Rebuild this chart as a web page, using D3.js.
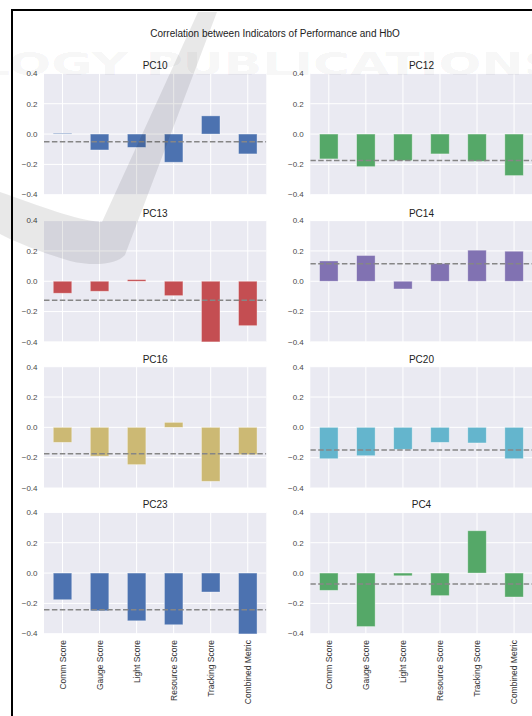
<!DOCTYPE html>
<html>
<head>
<meta charset="utf-8">
<script src="https://cdn.jsdelivr.net/npm/d3@7"></script>
<style>
  html, body { margin: 0; padding: 0; background: #ffffff; }
  svg { display: block; font-family: "Liberation Sans", Arial, sans-serif; }
</style>
</head>
<body>
<svg id="chart" width="532" height="716"></svg>
<script>
// Indicators shown on the x axis of every panel
const categories = ["Comm Score", "Gauge Score", "Light Score", "Resource Score", "Tracking Score", "Combined Metric"];

// Principal components, one panel each (row by row)
const panelNames = ["PC10", "PC12", "PC13", "PC14", "PC16", "PC20", "PC23", "PC4"];

// Correlation of each indicator with the component
const pc10 = [0.005, -0.105, -0.088, -0.186, 0.12, -0.131];
const pc12 = [-0.164, -0.215, -0.175, -0.131, -0.18, -0.274];
const pc13 = [-0.079, -0.066, 0.011, -0.095, -0.40, -0.293];
const pc14 = [0.134, 0.17, -0.051, 0.117, 0.205, 0.198];
const pc16 = [-0.099, -0.19, -0.246, 0.033, -0.356, -0.18];
const pc20 = [-0.207, -0.187, -0.145, -0.099, -0.103, -0.207];
const pc23 = [-0.176, -0.249, -0.315, -0.341, -0.125, -0.405];
const pc4  = [-0.114, -0.353, -0.018, -0.149, 0.279, -0.158];

// Dashed reference level drawn across each panel
const referenceLevels = [-0.05, -0.175, -0.125, 0.115, -0.174, -0.15, -0.242, -0.072];

// Bar colour per panel (seaborn "deep" palette)
const panelColors = ["#4C72B0", "#55A868", "#C44E52", "#8172B2", "#CCB974", "#64B5CD", "#4C72B0", "#55A868"];

// Y axis ticks
const yTicks = [-0.4, -0.2, 0.0, 0.2, 0.4];

const seriesValues = [pc10, pc12, pc13, pc14, pc16, pc20, pc23, pc4];

const svg = d3.select("#chart");

// Figure frame
svg.append("rect")
  .attr("x", 12).attr("y", 10)
  .attr("width", 540).attr("height", 720)
  .attr("fill", "#ffffff")
  .attr("stroke", "#000000")
  .attr("stroke-width", 2);

svg.append("text")
  .attr("x", 275).attr("y", 36.5)
  .attr("text-anchor", "middle")
  .attr("font-size", 10)
  .attr("fill", "#222")
  .text("Correlation between Indicators of Performance and HbO");

const colLeft = [44, 310.3];
const plotW = 222.3;
const rowTop = [73.4, 220.6, 366.7, 512.4];
const plotH = 121.3;

const y = d3.scaleLinear().domain([-0.4, 0.4]).range([plotH, 0]);
const x = d3.scaleBand().domain(categories).range([0, plotW]).padding(0);
const barW = x.bandwidth() * 0.5;
const fmt = d3.format(".1f");

const defs = svg.append("defs");

panelNames.forEach((name, i) => {
  const col = i % 2, row = Math.floor(i / 2);
  const g = svg.append("g")
    .attr("transform", `translate(${colLeft[col]},${rowTop[row]})`);

  const clipId = "clip" + i;
  defs.append("clipPath").attr("id", clipId)
    .append("rect").attr("width", plotW).attr("height", plotH);

  // Axes background
  g.append("rect")
    .attr("width", plotW).attr("height", plotH)
    .attr("fill", "#EAEAF2");

  // Grid lines
  g.selectAll(".hgrid").data(yTicks).enter().append("line")
    .attr("x1", 0).attr("x2", plotW)
    .attr("y1", d => y(d)).attr("y2", d => y(d))
    .attr("stroke", "#ffffff").attr("stroke-width", 1);
  g.selectAll(".vgrid").data(categories).enter().append("line")
    .attr("x1", d => x(d) + x.bandwidth() / 2)
    .attr("x2", d => x(d) + x.bandwidth() / 2)
    .attr("y1", 0).attr("y2", plotH)
    .attr("stroke", "#ffffff").attr("stroke-width", 1);

  // Bars
  const plot = g.append("g").attr("clip-path", `url(#${clipId})`);
  plot.selectAll(".bar").data(seriesValues[i]).enter().append("rect")
    .attr("x", (d, k) => x(categories[k]) + (x.bandwidth() - barW) / 2)
    .attr("y", d => y(Math.max(0, d)))
    .attr("width", barW)
    .attr("height", d => Math.abs(y(d) - y(0)))
    .attr("fill", panelColors[i])
    .attr("stroke", "#ffffff")
    .attr("stroke-opacity", 0.45)
    .attr("stroke-width", 0.8);

  // Reference level
  plot.append("line")
    .attr("x1", 0).attr("x2", plotW)
    .attr("y1", y(referenceLevels[i])).attr("y2", y(referenceLevels[i]))
    .attr("stroke", "#868686")
    .attr("stroke-width", 1.5)
    .attr("stroke-dasharray", "5.5,2.4");

  // Y tick labels
  g.selectAll(".ylab").data(yTicks).enter().append("text")
    .attr("x", -6.5).attr("y", d => y(d))
    .attr("dy", "0.35em")
    .attr("text-anchor", "end")
    .attr("font-size", 8)
    .attr("fill", "#4a4a4a")
    .text(d => fmt(d));

  // Panel title
  g.append("text")
    .attr("x", plotW / 2).attr("y", -4)
    .attr("text-anchor", "middle")
    .attr("font-size", 10)
    .attr("fill", "#222")
    .text(name);

  // Category labels on the bottom row only
  if (row === 3) {
    g.selectAll(".xlab").data(categories).enter().append("text")
      .attr("transform", d => `translate(${x(d) + x.bandwidth() / 2},${plotH + 6.3}) rotate(-90)`)
      .attr("dy", "0.35em")
      .attr("text-anchor", "end")
      .attr("font-size", 8.5)
      .attr("fill", "#333")
      .text(d => d);
  }
});

// Publisher watermark laid over the figure
const wm = svg.append("g").attr("pointer-events", "none");
wm.append("path")
  .attr("d", "M0,192 C40,206 75,220 102,222 L198,12 L217,12 L125,255 C117,264 95,267 70,261 C40,252 15,242 0,234 Z")
  .attr("fill", "#000000")
  .attr("fill-opacity", 0.09);
wm.append("text")
  .attr("x", -22).attr("y", 74.5)
  .attr("font-family", "DejaVu Sans, sans-serif")
  .attr("font-weight", "bold")
  .attr("font-size", 32)
  .attr("textLength", 582)
  .attr("lengthAdjust", "spacingAndGlyphs")
  .attr("fill", "#000000")
  .attr("fill-opacity", 0.055)
  .text("LOGY PUBLICATIONS");
</script>
</body>
</html>
